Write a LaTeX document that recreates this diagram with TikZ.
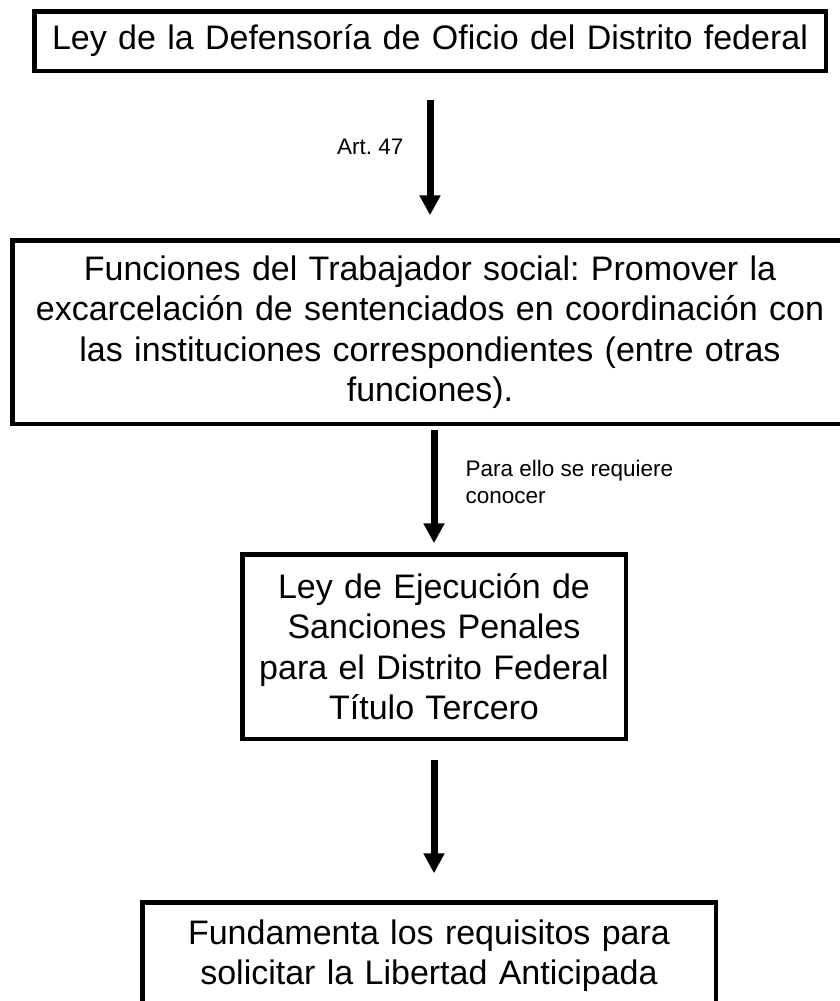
\documentclass[tikz,border=0pt]{standalone}
\usepackage{fontspec}
\setmainfont{Liberation Sans}
\usetikzlibrary{arrows.meta}
\frenchspacing

\newcommand{\boxfont}{\fontsize{34}{40.5}\selectfont}
\newcommand{\notefont}{\fontsize{22.5}{27}\selectfont}

\begin{document}
\begin{tikzpicture}[
    x=1pt, y=-1pt,
    lawbox/.style={draw, line width=4.5pt, inner sep=0pt, outer sep=0pt, align=center, font=\boxfont},
    flow/.style={line width=7pt, -{Triangle[width=20pt, length=20pt]}},
    note/.style={inner sep=0pt, font=\notefont}
]
\useasboundingbox (0,0) rectangle (840,1001);
\fill[white] (0,0) rectangle (840,1001);
\clip (0,0) rectangle (840,1001);

% boxes
\node[lawbox, text width=791.5pt, minimum height=59.5pt] (ley) at (430,41)
    {Ley de la Defensoría de Oficio del Distrito federal};
\node[lawbox, text width=835.5pt, minimum height=183.5pt] (funciones) at (430,332)
    {Funciones del Trabajador social: Promover la\\
     excarcelación de sentenciados en coordinación con\\
     las instituciones correspondientes (entre otras\\
     funciones).};
\node[lawbox, text width=383.5pt, minimum height=184.5pt] (sanciones) at (434,646.5)
    {Ley de Ejecución de\\
     Sanciones Penales\\
     para el Distrito Federal\\
     Título Tercero};
\node[lawbox, text width=573.5pt, minimum height=106.5pt] (libertad) at (429,955.5)
    {Fundamenta los requisitos para\\
     solicitar la Libertad Anticipada};

% arrows
\draw[flow, shorten <=29pt, shorten >=25pt] (ley) -- (funciones)
    node[note, pos=0.45, anchor=east, xshift=-23pt] (art) {Art. 47};
\draw[flow, shorten <=6pt, shorten >=11pt] (funciones.south -| sanciones) -- (sanciones.north)
    node[note, pos=0.25, anchor=north west, xshift=28pt, align=left] (requiere) {Para ello se requiere\\conocer};
\draw[flow, shorten <=21pt, shorten >=29pt] (sanciones.south) -- (sanciones.south |- libertad.north);
\end{tikzpicture}
\end{document}
